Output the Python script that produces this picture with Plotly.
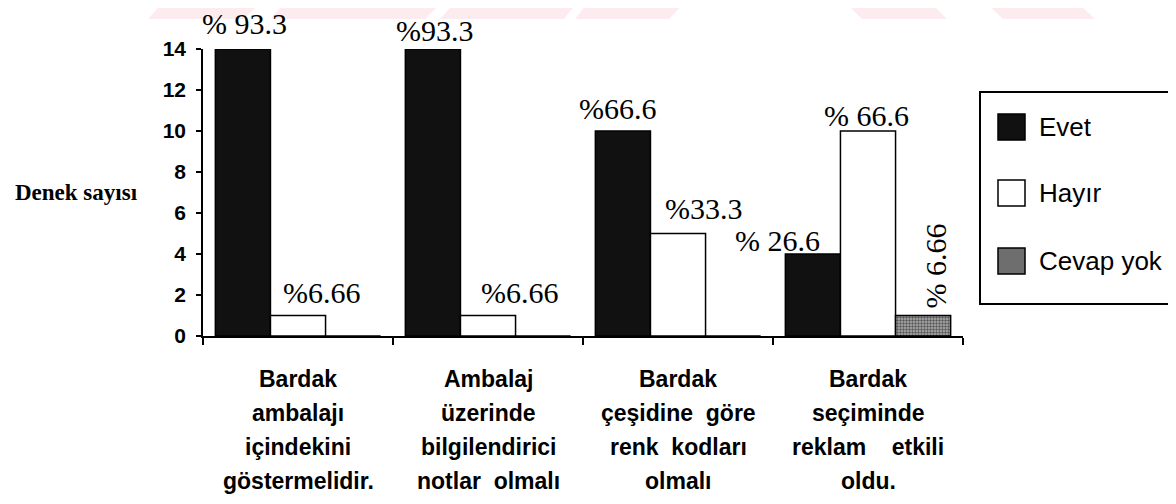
import plotly.graph_objects as go

# ---------------- data ----------------
categories = [
    "Bardak ambalajı içindekini göstermelidir.",
    "Ambalaj üzerinde bilgilendirici notlar olmalı",
    "Bardak çeşidine göre renk kodları olmalı",
    "Bardak seçiminde reklam etkili oldu.",
]
category_lines = [
    ["Bardak", "ambalajı", "içindekini", "göstermelidir."],
    ["Ambalaj", "üzerinde", "bilgilendirici", "notlar\u00a0\u00a0olmalı"],
    ["Bardak", "çeşidine\u00a0\u00a0göre", "renk\u00a0\u00a0kodları", "olmalı"],
    ["Bardak", "seçiminde", "reklam\u00a0\u00a0\u00a0\u00a0etkili", "oldu."],
]
series_names = ["Evet", "Hayır", "Cevap yok"]
evet = [14, 14, 10, 4]
hayir = [1, 1, 5, 10]
cevap_yok = [0, 0, 0, 1]
pct_evet = ["% 93.3", "%93.3", "%66.6", "% 26.6"]
pct_hayir = ["%6.66", "%6.66", "%33.3", "% 66.6"]
pct_cevap = [None, None, None, "% 6.66"]
y_ticks = [0, 2, 4, 6, 8, 10, 12, 14]
y_title = "Denek sayısı"

# ---------------- styles / layout ----------------
OFF = 8                       # default page body margin
W, H = 1176 - OFF, 504 - OFF
PLOT_L, PLOT_R, PLOT_T, PLOT_B = 203, 963, 49, 336   # page pixel box of plot area
ML, MT = PLOT_L - OFF, PLOT_T - OFF
PW, PH = PLOT_R - PLOT_L, PLOT_B - PLOT_T
MR, MB = W - ML - PW, H - MT - PH
BARGAP = 0.13

def xp(px):
    return (px - PLOT_L) / PW

def yp(py):
    return (PLOT_B - py) / PH

series_values = [evet, hayir, cevap_yok]
series_pcts = [pct_evet, pct_hayir, pct_cevap]
series_style = [
    dict(color="#111111", pattern=None),
    dict(color="#ffffff", pattern=None),
    dict(color="#ffffff", pattern=dict(shape=".", fgcolor="#000000", bgcolor="#b0b0b0", size=3, solidity=0.5)),
]
legend_fill = ["#111111", "#ffffff", "#6e6e6e"]
# label offsets (px right of bar centre, px above bar top, angle)
label_offsets = [
    [(2, 26, 0), (2, 19, 0), (-5, 23, 0), (-35, 14, 0)],
    [(24, 23, 0), (32, 23, 0), (26, 25, 0), (-2, 16, 0)],
    [None, None, None, (12, 49, -90)],
]

sans = "Liberation Sans, Arial, sans-serif"
serif = "Liberation Serif, Times New Roman, serif"

fig = go.Figure()
for name, vals, st in zip(series_names, series_values, series_style):
    marker = dict(color=st["color"], line=dict(color="#000000", width=1.5))
    if st["pattern"]:
        marker["pattern"] = st["pattern"]
    fig.add_trace(go.Bar(name=name, x=categories, y=vals, marker=marker, showlegend=False))

annotations = []
nser = len(series_names)
slot = (1 - BARGAP) / nser
for si, (vals, pcts, offs) in enumerate(zip(series_values, series_pcts, label_offsets)):
    for ci, (v, t, o) in enumerate(zip(vals, pcts, offs)):
        if t is None:
            continue
        dx, dy, ang = o
        annotations.append(dict(
            x=ci + (si - (nser - 1) / 2) * slot, y=v, xref="x", yref="y",
            text=t, showarrow=False, xshift=dx, yshift=dy, textangle=ang,
            xanchor="center", yanchor="middle",
            font=dict(family=serif, size=30, color="#000000"),
        ))

# category labels (one line per annotation for tall line spacing)
for ci, lines in enumerate(category_lines):
    for li, line in enumerate(lines):
        annotations.append(dict(
            x=ci, y=0, xref="x", yref="paper", text=line, showarrow=False,
            yshift=-(43 + 34 * li), xanchor="center", yanchor="middle",
            font=dict(family=sans, size=23, color="#000000", weight=700),
        ))

# y-axis title (horizontal)
annotations.append(dict(
    x=xp(140), y=0.5, xref="paper", yref="paper", text=y_title, showarrow=False,
    xanchor="right", yanchor="middle",
    font=dict(family=serif, size=23, color="#000000", weight=700),
))

shapes = []
# faint watermark band at top of page
wm = [(148, 244, 165, 263), (271, 425, 286, 444), (440, 564, 457, 579),
      (575, 669, 590, 687), (862, 947, 843, 928), (1003, 1095, 983, 1075)]
for bx0, bx1, tx0, tx1 in wm:
    path = (f"M {xp(bx0)},{yp(19)} L {xp(bx1)},{yp(19)} L {xp(tx1)},{yp(0)} "
            f"L {xp(tx0)},{yp(0)} Z")
    shapes.append(dict(type="path", path=path, xref="paper", yref="paper",
                       fillcolor="#fdecef", line=dict(width=0), layer="below"))

# legend box
shapes.append(dict(type="rect", xref="paper", yref="paper",
                   x0=xp(980), x1=xp(1190), y0=yp(304), y1=yp(92),
                   line=dict(color="#000000", width=2), fillcolor="rgba(0,0,0,0)"))
leg_y = [127, 193, 261]
for name, fill, cy in zip(series_names, legend_fill, leg_y):
    shapes.append(dict(type="rect", xref="paper", yref="paper",
                       x0=xp(998), x1=xp(1025), y0=yp(cy + 13), y1=yp(cy - 13),
                       line=dict(color="#000000", width=1.5), fillcolor=fill))
    annotations.append(dict(x=xp(1037), y=yp(cy), xref="paper", yref="paper",
                            text=name, showarrow=False, xanchor="left", yanchor="middle",
                            font=dict(family=sans, size=26, color="#000000")))

fig.update_layout(
    width=W, height=H,
    margin=dict(l=ML, r=MR, t=MT, b=MB, pad=0),
    paper_bgcolor="#ffffff", plot_bgcolor="#ffffff",
    barmode="group", bargap=BARGAP, bargroupgap=0,
    showlegend=False,
    annotations=annotations, shapes=shapes,
    xaxis=dict(type="category", tickson="boundaries", ticks="outside", ticklen=7,
               tickwidth=1.5, tickcolor="#000000", showticklabels=False,
               showline=True, linecolor="#000000", linewidth=1.5, showgrid=False,
               range=[-0.5, 3.5]),
    yaxis=dict(range=[0, 14], tickvals=y_ticks, ticks="outside", ticklen=5,
               tickwidth=1.5, tickcolor="#000000", showline=True,
               linecolor="#000000", linewidth=1.5, showgrid=False, zeroline=False,
               ticklabelstandoff=6,
               tickfont=dict(family=sans, size=21, color="#000000", weight=700)),
)

fig.write_html("out.html")
